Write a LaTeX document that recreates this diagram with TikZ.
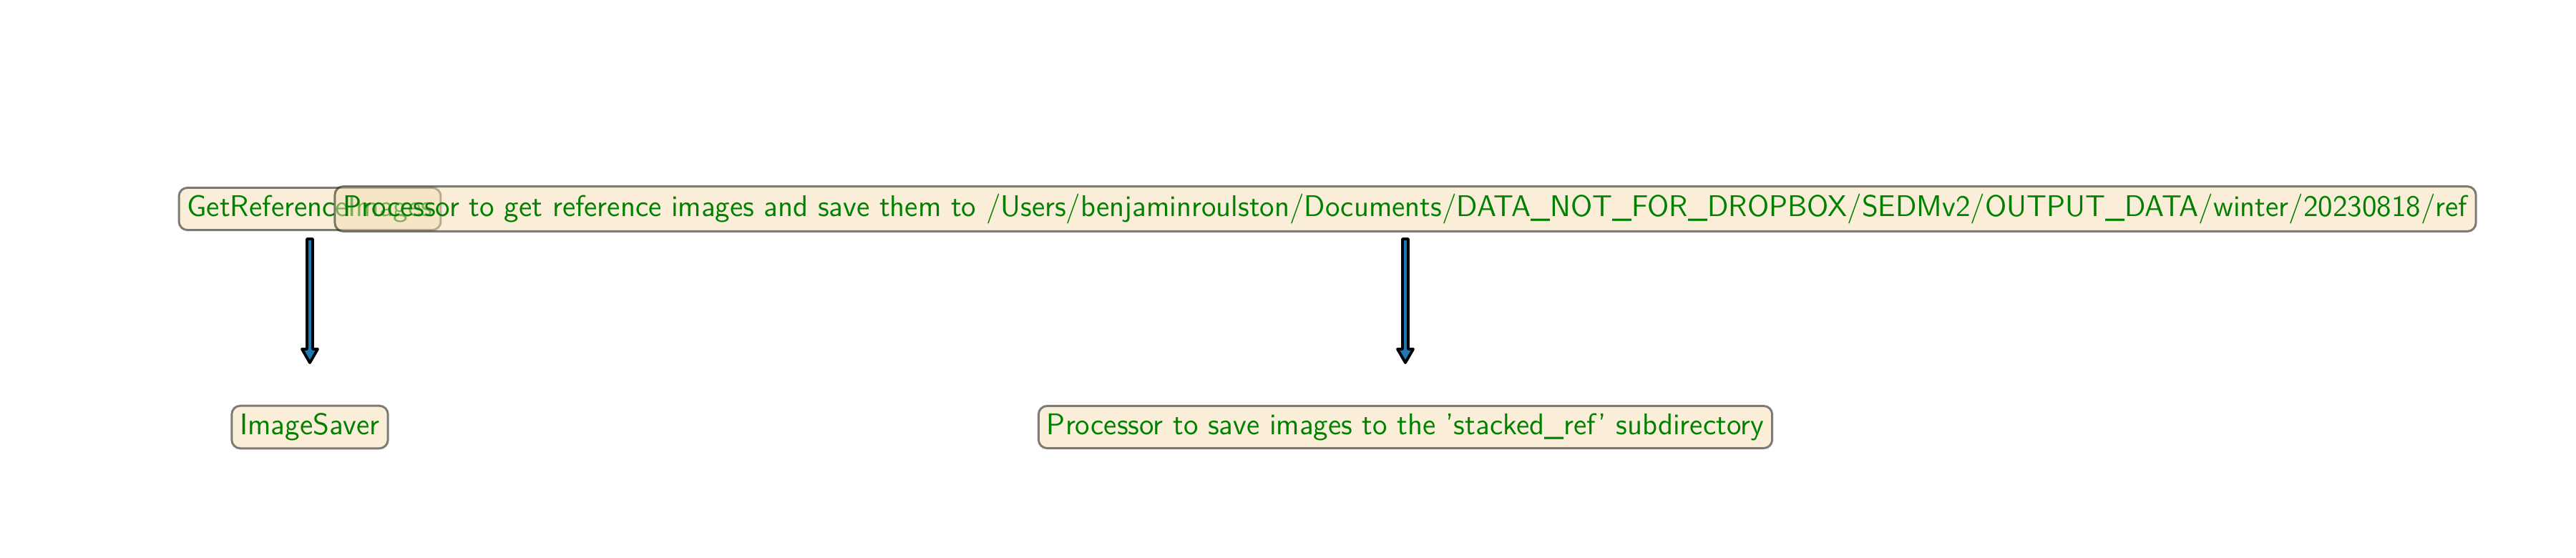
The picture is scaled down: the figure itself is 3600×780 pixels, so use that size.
\documentclass[tikz,border=0pt]{standalone}
\usetikzlibrary{calc}
\definecolor{wheatc}{RGB}{245,222,179}
\definecolor{txtgreen}{RGB}{0,128,0}
\definecolor{arrowblue}{HTML}{1F77B4}
\begin{document}
\begin{tikzpicture}[x=0.01cm,y=-0.01cm,
  procbox/.style={draw=black, draw opacity=0.5, fill=wheatc, fill opacity=0.5,
    text opacity=1, text=txtgreen, rounded corners=3.4pt, line width=0.85pt,
    inner xsep=3.3pt, inner ysep=3.0pt,
    font=\sffamily\fontsize{11.9}{14}\selectfont},
  fatarrow/.style={draw=black, fill=arrowblue, line width=1.1pt, line join=round}]
\useasboundingbox (0,0) rectangle (3600,780);
\node[procbox] (get) at (433,292) {GetReferenceImages};
\node[procbox] (getdesc) at (1964,292) {Processor to get reference images and save them to /Users/benjaminroulston/Documents/DATA\_NOT\_FOR\_DROPBOX/SEDMv2/OUTPUT\_DATA/winter/20230818/ref};
\node[procbox] (saver) at (433,597) {ImageSaver};
\node[procbox] (saverdesc) at (1964,597) {Processor to save images to the 'stacked\_ref' subdirectory};
\coordinate (s1) at ($(get.center)+(0,42)$);
\coordinate (t1) at ($(saver.center)+(0,-90)$);
\coordinate (s2) at ($(getdesc.center)+(0,42)$);
\coordinate (t2) at ($(saverdesc.center)+(0,-90)$);
\foreach \s/\t in {s1/t1,s2/t2}{
  \draw[fatarrow] ($(\s)+(-4,0)$) -- ($(\t)+(-4,-19)$) -- ($(\t)+(-11,-19)$) -- (\t)
    -- ($(\t)+(11,-19)$) -- ($(\t)+(4,-19)$) -- ($(\s)+(4,0)$) -- cycle;
}
\end{tikzpicture}
\end{document}
